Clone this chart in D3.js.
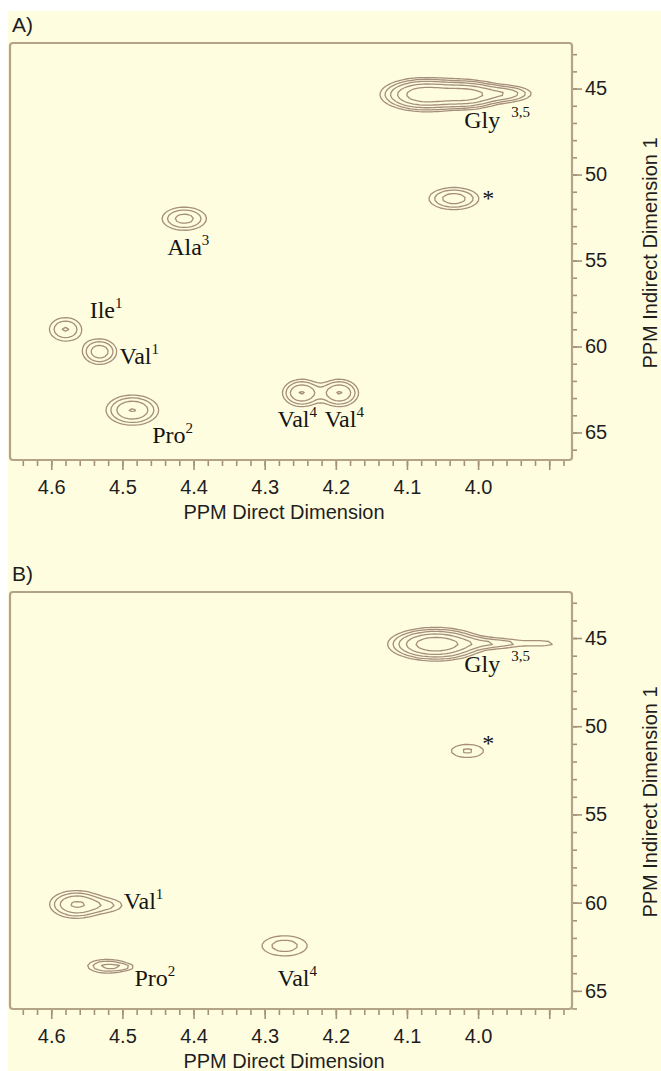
<!DOCTYPE html>
<html>
<head>
<meta charset="utf-8">
<script src="https://cdn.jsdelivr.net/npm/d3@7"></script>
<style>
  body { margin: 0; background: #fff; }
  svg { display: block; }
  .axis-text { font-family: "Liberation Sans", Arial, sans-serif; font-size: 20px; fill: #1e1e1e; }
  .peak-label { font-family: "Liberation Serif", "Times New Roman", serif; font-size: 24px; fill: #141414; }
</style>
</head>
<body>
<svg id="chart"></svg>
<script>
// tick values / labels
const xMajor = [4.6, 4.5, 4.4, 4.3, 4.2, 4.1, 4.0, 3.9];
const xMajorLabels = ["4.6", "4.5", "4.4", "4.3", "4.2", "4.1", "4.0", ""];
const yMajor = [45, 50, 55, 60, 65];

// contour levels (multiplicative, like the NMR software)
const contourLevels = [1, 1.6, 2.5, 4, 6.3, 10];

// cross peaks: x = direct ppm, y = indirect ppm
const peaksA = [
  { x: 4.075, y: 45.35, sx: 0.030, sy: 0.47, h: 9 },   // Gly 3,5
  { x: 4.015, y: 45.35, sx: 0.025, sy: 0.42, h: 7 },
  { x: 3.962, y: 45.30, sx: 0.024, sy: 0.30, h: 3.2 },
  { x: 4.034, y: 51.40, sx: 0.023, sy: 0.42, h: 3.2 }, // *
  { x: 4.413, y: 52.57, sx: 0.021, sy: 0.45, h: 3.0 }, // Ala3
  { x: 4.580, y: 59.00, sx: 0.0163, sy: 0.49, h: 2.6 }, // Ile1
  { x: 4.532, y: 60.30, sx: 0.0153, sy: 0.47, h: 3.4 }, // Val1
  { x: 4.486, y: 63.70, sx: 0.022, sy: 0.52, h: 4.1 }, // Pro2
  { x: 4.248, y: 62.70, sx: 0.016, sy: 0.47, h: 4.1 }, // Val4
  { x: 4.195, y: 62.70, sx: 0.016, sy: 0.47, h: 4.1 }  // Val4
];

const peaksB = [
  { x: 4.060, y: 45.35, sx: 0.032, sy: 0.45, h: 9 },   // Gly 3,5
  { x: 3.980, y: 45.30, sx: 0.035, sy: 0.22, h: 2.2 },
  { x: 3.910, y: 45.30, sx: 0.018, sy: 0.12, h: 1.4 },
  { x: 4.015, y: 51.40, sx: 0.022, sy: 0.36, h: 1.7 }, // *
  { x: 4.565, y: 60.10, sx: 0.022, sy: 0.46, h: 4.2 }, // Val1
  { x: 4.520, y: 60.15, sx: 0.020, sy: 0.32, h: 1.5 },
  { x: 4.522, y: 63.60, sx: 0.019, sy: 0.27, h: 2.7 }, // Pro2
  { x: 4.497, y: 63.65, sx: 0.012, sy: 0.15, h: 1.1 },
  { x: 4.272, y: 62.45, sx: 0.027, sy: 0.48, h: 2.0 }  // Val4
];

// peak assignments (anchor = left baseline, in ppm)
const labelsA = [
  { text: "Gly", sup: "3,5", x: 4.0195, y: 47.30 },
  { text: "*", sup: "", x: 3.994, y: 51.80 },
  { text: "Ala", sup: "3", x: 4.437, y: 54.68 },
  { text: "Ile", sup: "1", x: 4.546, y: 58.34 },
  { text: "Val", sup: "1", x: 4.504, y: 61.02 },
  { text: "Pro", sup: "2", x: 4.458, y: 65.61 },
  { text: "Val", sup: "4", x: 4.282, y: 64.68 },
  { text: "Val", sup: "4", x: 4.216, y: 64.68 }
];

const labelsB = [
  { text: "Gly", sup: "3,5", x: 4.0195, y: 46.93 },
  { text: "*", sup: "", x: 3.994, y: 51.39 },
  { text: "Val", sup: "1", x: 4.498, y: 60.34 },
  { text: "Pro", sup: "2", x: 4.483, y: 64.72 },
  { text: "Val", sup: "4", x: 4.282, y: 64.72 }
];

const W = 661, H = 1071;
const svg = d3.select("#chart").attr("width", W).attr("height", H);

// pale yellow page
svg.append("rect")
  .attr("x", 8).attr("y", 11)
  .attr("width", W - 8).attr("height", H - 11)
  .attr("fill", "#fffddf");

const frameLeft = 10, frameRight = 572, frameH = 417;
const frameColor = "#b5a388";
const tickColor = "#a3927a";
const contourColor = "#a58e7c";

const panels = [
  { name: "A)", top: 43, yDomain: [42.35, 66.6], peaks: peaksA, labels: labelsA },
  { name: "B)", top: 592, yDomain: [42.39, 66.03], peaks: peaksB, labels: labelsB }
];

panels.forEach((p, pi) => {
  const x = d3.scaleLinear().domain([4.658, 3.868]).range([frameLeft, frameRight]);
  const y = d3.scaleLinear().domain(p.yDomain).range([p.top, p.top + frameH]);
  const g = svg.append("g");

  // panel letter
  g.append("text")
    .attr("class", "axis-text")
    .attr("x", 12).attr("y", p.top - 11)
    .style("font-size", "21px")
    .text(p.name);

  // clip
  const clipId = "clip" + pi;
  svg.append("clipPath").attr("id", clipId)
    .append("rect")
    .attr("x", frameLeft).attr("y", p.top)
    .attr("width", frameRight - frameLeft).attr("height", frameH);

  const step = 3;
  const n = Math.ceil((frameRight - frameLeft) / step);
  const m = Math.ceil(frameH / step);
  const values = new Float64Array(n * m);
  for (let j = 0; j < m; j++) {
    const py = y.invert(p.top + (j + 0.5) * step);
    for (let i = 0; i < n; i++) {
      const px = x.invert(frameLeft + (i + 0.5) * step);
      let v = 0;
      for (const k of p.peaks) {
        const dx = (px - k.x) / k.sx, dy = (py - k.y) / k.sy;
        v += k.h * Math.exp(-0.5 * (dx * dx + dy * dy));
      }
      values[j * n + i] = v;
    }
  }
  const contours = d3.contours().size([n, m]).thresholds(contourLevels)(values);
  const path = d3.geoPath(d3.geoIdentity().scale(step).translate([frameLeft, p.top]));

  g.append("g")
    .attr("clip-path", `url(#${clipId})`)
    .selectAll("path")
    .data(contours)
    .join("path")
    .attr("d", path)
    .attr("fill", "none")
    .attr("stroke", contourColor)
    .attr("stroke-width", 1.3)
    .attr("stroke-linejoin", "round");

  // x axis: minor + major ticks
  const xMinorG = g.append("g")
    .attr("transform", `translate(0,${p.top + frameH})`)
    .call(d3.axisBottom(x).ticks(40).tickSize(6).tickFormat(""));
  const xMajorG = g.append("g")
    .attr("transform", `translate(0,${p.top + frameH})`)
    .call(d3.axisBottom(x).tickValues(xMajor).tickSize(10).tickPadding(10)
      .tickFormat((d, i) => xMajorLabels[i]));

  // y axis on the right
  const yMinorG = g.append("g")
    .attr("transform", `translate(${frameRight},0)`)
    .call(d3.axisRight(y).ticks(24).tickSize(5).tickFormat(""));
  const yMajorG = g.append("g")
    .attr("transform", `translate(${frameRight},0)`)
    .call(d3.axisRight(y).tickValues(yMajor).tickSize(10).tickPadding(3)
      .tickFormat(d3.format("d")));

  [xMinorG, xMajorG, yMinorG, yMajorG].forEach(a => {
    a.select(".domain").remove();
    a.selectAll("line").attr("stroke", tickColor).attr("stroke-width", 1.6);
    a.selectAll("text").attr("class", "axis-text").attr("fill", null);
    a.attr("font-family", null).attr("font-size", null);
  });

  // frame
  g.append("rect")
    .attr("x", frameLeft).attr("y", p.top)
    .attr("width", frameRight - frameLeft).attr("height", frameH)
    .attr("rx", 3)
    .attr("fill", "none")
    .attr("stroke", frameColor)
    .attr("stroke-width", 2.2);

  // axis titles
  g.append("text")
    .attr("class", "axis-text")
    .attr("x", 284).attr("y", p.top + frameH + 59)
    .attr("text-anchor", "middle")
    .text("PPM Direct Dimension");

  g.append("text")
    .attr("class", "axis-text")
    .attr("transform", `translate(650,${p.top + 210}) rotate(-90)`)
    .attr("text-anchor", "middle")
    .attr("dy", "0.35em")
    .text("PPM Indirect Dimension 1");

  // peak labels
  const lab = g.selectAll(".peak-label")
    .data(p.labels)
    .join("text")
    .attr("class", "peak-label")
    .attr("x", d => x(d.x))
    .attr("y", d => y(d.y));
  lab.append("tspan").text(d => d.text);
  lab.append("tspan")
    .attr("dx", d => d.sup.length > 1 ? 11 : 0)
    .attr("dy", d => d.sup.length > 1 ? -11 : -10)
    .style("font-size", "15px")
    .text(d => d.sup);
});
</script>
</body>
</html>
